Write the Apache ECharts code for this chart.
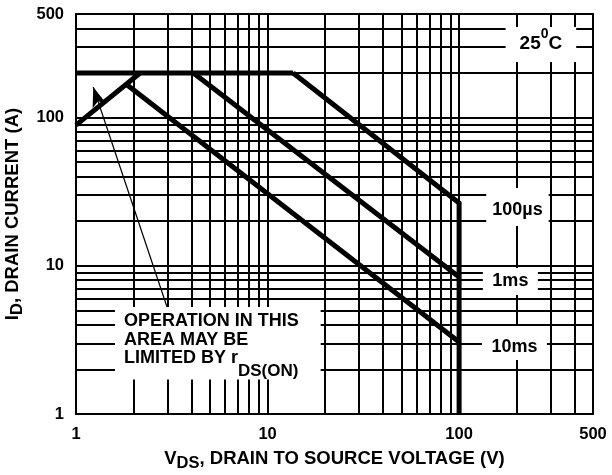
<!DOCTYPE html>
<html>
<head>
<meta charset="utf-8">
<script src="https://cdn.jsdelivr.net/npm/echarts@6/dist/echarts.min.js"></script>
<style>
  html, body { margin: 0; padding: 0; background: #fff; }
  #soa { width: 612px; height: 475px; }
</style>
</head>
<body>
<div id="soa"></div>
<script>
// grid lines, same on both log axes
var gridValues = [2, 3, 4, 5, 6, 7, 8, 9, 10, 20, 30, 40, 50, 60, 70, 80, 90, 100, 200, 300, 400];

// boundary curves, [V, A]
var rdsLimit = [[1, 89], [2.16, 200]];
var currentLimit = [[1, 200], [13.6, 200]];
var pulse100us = [[13.6, 200], [100, 26.5], [100, 1]];
var pulse1ms = [[4.1, 200], [100, 8.4]];
var pulse10ms = [[1.85, 166], [100, 3.06]];

// where the text boxes sit (data coords)
var tempAt = [267.3, 311.3];
var us100At = [201.6, 24.93];
var ms1At = [185.2, 7.84];
var ms10At = [194.4, 3.01];
var noteAt = [1.598, 5.27];
var arrowFrom = [2.987, 5.27];
var arrowTo = [1.23, 160.8];

var font = 'Liberation Sans';

// rich text token, top aligned so padding moves it
function tok(size, pad) {
    return {
        fontFamily: font, fontWeight: 'bold', color: '#000',
        fontSize: size, height: size, verticalAlign: 'top',
        align: 'left', padding: pad || [0, 0, 0, 0]
    };
}

function curve(data) {
    return {
        type: 'line', data: data, symbol: 'none', silent: true, z: 5,
        lineStyle: { color: '#000', width: 5, join: 'miter', cap: 'butt' }
    };
}

var chart = echarts.init(document.getElementById('soa'));

var option = {
    backgroundColor: '#fff',
    animation: false,
    grid: {
        left: 76, right: 19, top: 14, bottom: 61,
        outerBoundsMode: 'none', containLabel: false,
        show: true, borderColor: '#000', borderWidth: 2, backgroundColor: '#fff'
    },
    xAxis: {
        type: 'log', logBase: 10, min: 1, max: 500,
        axisLine: { lineStyle: { color: '#000', width: 2 } },
        axisTick: { show: false },
        splitLine: { show: false },
        axisLabel: { fontFamily: font, fontWeight: 'bold', fontSize: 16.5, color: '#000', margin: 12 },
        name: '{m|V}{s|DS}{m|, DRAIN TO SOURCE VOLTAGE (V)}',
        nameLocation: 'middle', nameGap: 36,
        nameTextStyle: { rich: { m: tok(18.5, [0, 0, 3, 0]), s: tok(16.5, [5, 0, 0, 0]) } }
    },
    yAxis: {
        type: 'log', logBase: 10, min: 1, max: 500,
        axisLine: { lineStyle: { color: '#000', width: 2 } },
        axisTick: { show: false },
        splitLine: { show: false },
        axisLabel: { fontFamily: font, fontWeight: 'bold', fontSize: 16.5, color: '#000', margin: 12 },
        name: '{m|I}{s|D}{m|, DRAIN CURRENT (A)}',
        nameLocation: 'middle', nameGap: 50, nameRotate: 90,
        nameTextStyle: { rich: { m: tok(18.5, [0, 0, 3, 0]), s: tok(16.5, [5, 0, 0, 0]) } }
    },
    series: [
        {
            // grid + text boxes
            type: 'line', data: [], silent: true,
            markLine: {
                z: 1, silent: true, symbol: ['none', 'none'],
                label: { show: false },
                lineStyle: { color: '#000', width: 2, type: 'solid' },
                data: gridValues.map(function (v) { return { xAxis: v }; })
                    .concat(gridValues.map(function (v) { return { yAxis: v }; }))
            },
            markPoint: {
                z: 3, silent: true, symbol: 'circle', symbolSize: 0,
                itemStyle: { color: 'transparent' },
                label: { show: true, position: 'inside', backgroundColor: '#fff' },
                data: [
                    {
                        coord: tempAt,
                        label: {
                            formatter: '{n|25}{sup|0}{n|C}', padding: [0, 14, 9, 14],
                            rich: { n: tok(19, [7, 0, 0, 0]), sup: tok(14, [0.5, 0, 0, 0]) }
                        }
                    },
                    {
                        coord: us100At,
                        label: { formatter: '{n|100\u00b5s}', padding: [0, 6, 0, 6], rich: { n: tok(18, [13, 0, 7, 0]) } }
                    },
                    {
                        coord: ms1At,
                        label: { formatter: '{n|1ms}', padding: [0, 9.5, 0, 9.5], rich: { n: tok(18, [4, 0, 5, 0]) } }
                    },
                    {
                        coord: ms10At,
                        label: { formatter: '{n|10ms}', padding: [0, 9.5, 0, 9.5], rich: { n: tok(18, [12, 0, 4, 0]) } }
                    },
                    {
                        coord: noteAt,
                        label: {
                            align: 'left', verticalAlign: 'top', padding: [0, 22, 0, 9],
                            formatter: '{a|OPERATION IN THIS}\n{b|AREA MAY BE}\n{c|LIMITED BY r}{d|DS(ON)}',
                            rich: {
                                a: tok(18, [4.7, 0, 0, 0]),
                                b: tok(18, [1.8, 0, 0, 0]),
                                c: tok(18, [0, 0, 0, 0]),
                                d: tok(17, [13, 0, 0, 0])
                            }
                        }
                    }
                ]
            }
        },
        {
            // pointer from the note to the rDS(on) line
            type: 'line', data: [], silent: true,
            markLine: {
                z: 4, silent: true,
                label: { show: false },
                lineStyle: { color: '#000', width: 1.2, type: 'solid' },
                data: [[
                    { coord: arrowFrom, symbol: 'none' },
                    { coord: arrowTo, symbol: 'arrow', symbolSize: [11, 20] }
                ]]
            }
        },
        curve(rdsLimit),
        curve(currentLimit),
        curve(pulse100us),
        curve(pulse1ms),
        curve(pulse10ms)
    ]
};

chart.setOption(option);
</script>
</body>
</html>
